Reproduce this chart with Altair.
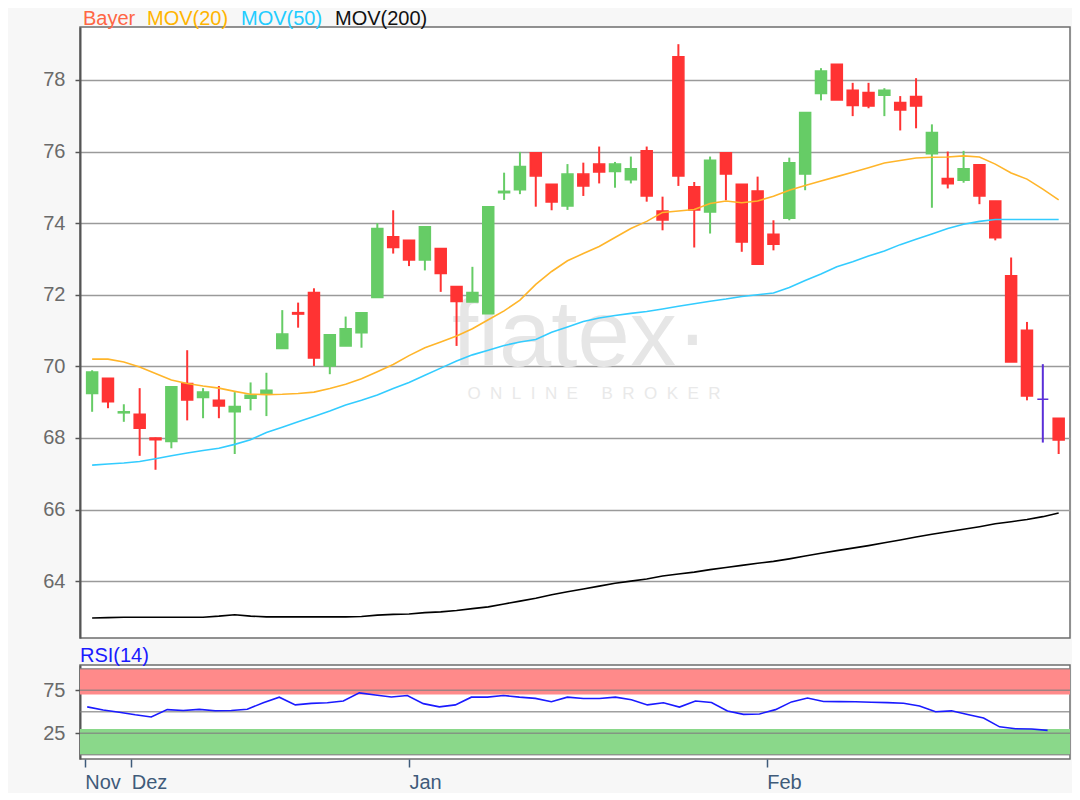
import altair as alt
import pandas as pd

# ---------------- data ----------------
opens = [69.24, 69.67, 68.70, 68.66, 68.00, 67.90, 69.52, 69.13, 69.05, 68.73,
         69.11, 69.22, 70.50, 71.50, 72.06, 70.01, 70.57, 70.94, 71.92, 73.62,
         73.52, 72.97, 73.29, 72.23, 71.80, 71.47, 74.85, 74.93, 75.97, 75.09,
         74.48, 75.37, 75.65, 75.44, 75.21, 76.02, 74.34, 78.65, 75.02, 74.31,
         75.97, 75.09, 74.90, 73.69, 74.14, 75.37, 77.62, 78.44, 77.71, 77.65,
         77.57, 77.37, 77.54, 75.94, 75.25, 75.20, 75.63, 74.62, 72.53, 71.01,
         69.08, 68.55]
closes = [69.84, 69.01, 68.73, 68.27, 67.95, 69.43, 69.06, 69.28, 68.89, 68.88,
          69.19, 69.33, 70.90, 71.46, 70.23, 70.88, 71.05, 71.50, 73.85, 73.32,
          72.97, 73.90, 72.59, 71.81, 72.06, 74.46, 74.89, 75.58, 75.32, 74.59,
          75.37, 75.04, 75.43, 75.65, 75.52, 74.76, 74.09, 75.32, 74.37, 75.76,
          75.37, 73.47, 72.85, 73.41, 75.69, 77.09, 78.25, 77.44, 77.29, 77.27,
          77.71, 77.16, 77.27, 76.53, 75.10, 75.52, 74.76, 73.59, 70.12, 69.17,
          69.08, 67.94]
highs = [69.89, 69.67, 68.94, 69.39, 68.01, 69.43, 70.45, 69.39, 69.45, 69.28,
         69.55, 69.82, 71.57, 71.78, 72.18, 70.88, 71.39, 71.50, 74.00, 74.36,
         73.52, 73.90, 73.29, 72.23, 72.78, 74.46, 75.41, 75.99, 75.97, 75.09,
         75.65, 75.69, 76.14, 75.71, 75.86, 76.14, 74.74, 79.00, 75.15, 75.86,
         75.97, 75.09, 75.30, 74.08, 75.83, 77.09, 78.33, 78.44, 77.92, 77.92,
         77.77, 77.55, 78.05, 76.76, 76.00, 76.02, 75.63, 74.62, 73.04, 71.24,
         70.06, 68.55]
lows = [68.73, 68.83, 68.45, 67.50, 67.11, 67.71, 68.49, 68.55, 68.55, 67.55,
        68.77, 68.61, 70.50, 71.08, 70.01, 69.78, 70.57, 70.52, 71.92, 73.15,
        72.80, 72.68, 72.08, 70.57, 71.80, 71.47, 74.65, 74.81, 74.46, 74.36,
        74.37, 74.76, 75.11, 74.99, 75.11, 74.60, 73.80, 75.04, 73.32, 73.71,
        74.64, 73.20, 72.85, 73.24, 74.08, 74.92, 77.43, 77.44, 76.99, 77.21,
        76.99, 76.59, 76.65, 74.43, 74.97, 75.13, 74.53, 73.52, 70.12, 69.05,
        67.87, 67.55]

mov20 = [70.20, 70.20, 70.12, 69.98, 69.80, 69.62, 69.52, 69.45, 69.39, 69.30,
         69.22, 69.21, 69.22, 69.24, 69.28, 69.38, 69.50, 69.65, 69.85, 70.05,
         70.30, 70.52, 70.68, 70.85, 71.05, 71.30, 71.55, 71.85, 72.29, 72.65,
         72.95, 73.15, 73.35, 73.60, 73.85, 74.05, 74.30, 74.34, 74.38, 74.55,
         74.62, 74.57, 74.62, 74.75, 74.92, 75.05, 75.18, 75.30, 75.42, 75.55,
         75.68, 75.75, 75.82, 75.84, 75.85, 75.88, 75.85, 75.65, 75.40, 75.23,
         74.95, 74.65]
mov50 = [67.24, 67.27, 67.30, 67.34, 67.42, 67.50, 67.58, 67.65, 67.71, 67.82,
         67.95, 68.15, 68.30, 68.45, 68.60, 68.75, 68.92, 69.05, 69.20, 69.38,
         69.55, 69.75, 69.95, 70.15, 70.32, 70.45, 70.58, 70.68, 70.75, 70.95,
         71.10, 71.25, 71.35, 71.42, 71.48, 71.53, 71.60, 71.68, 71.75, 71.82,
         71.88, 71.95, 72.00, 72.05, 72.20, 72.40, 72.58, 72.78, 72.92, 73.08,
         73.22, 73.40, 73.55, 73.70, 73.85, 73.97, 74.05, 74.10, 74.10, 74.10,
         74.10, 74.10]
mov200 = [62.97, 62.98, 62.99, 62.99, 62.99, 62.99, 62.99, 62.99, 63.02, 63.06,
          63.02, 63.00, 63.00, 63.00, 63.00, 63.00, 63.00, 63.01, 63.05, 63.07,
          63.08, 63.12, 63.14, 63.18, 63.23, 63.28, 63.36, 63.44, 63.52, 63.62,
          63.70, 63.78, 63.86, 63.94, 64.00, 64.06, 64.14, 64.20, 64.25, 64.32,
          64.38, 64.44, 64.50, 64.55, 64.62, 64.70, 64.78, 64.85, 64.92, 64.99,
          65.07, 65.15, 65.23, 65.31, 65.38, 65.45, 65.52, 65.60, 65.66, 65.72,
          65.80, 65.90]
rsi = [55.7, 52.0, 49.5, 46.5, 44.0, 52.5, 51.5, 52.8, 51.2, 51.5,
       53.0, 60.5, 67.0, 58.0, 59.8, 60.5, 62.5, 72.0, 69.5, 67.2,
       69.0, 59.5, 55.7, 58.0, 67.0, 67.0, 69.0, 67.0, 65.6, 61.7,
       67.0, 65.5, 65.5, 67.0, 64.0, 58.0, 60.5, 55.5, 62.5, 60.8,
       51.0, 47.0, 47.5, 52.5, 61.5, 66.0, 62.0, 61.8, 61.7, 61.0,
       60.6, 59.9, 56.8, 50.0, 51.1, 46.8, 42.8, 32.5, 30.3, 30.0,
       28.4]

month_ticks = [-0.15, 2.75, 20.1, 42.45]
month_labels = ["Nov", "Dez", "Jan", "Feb"]
price_ticks = [64, 66, 68, 70, 72, 74, 76, 78]
rsi_ticks = [25, 75]
rsi_levels = [0, 25, 50, 75, 100]
overbought = [70, 100]
oversold = [0, 30]

series_names = ["MOV(200)", "MOV(50)", "MOV(20)"]
series_values = [mov200, mov50, mov20]
series_colors = ["#000000", "#33ccff", "#ffb52a"]

title_words = ["Bayer", "MOV(20)", "MOV(50)", "MOV(200)"]
title_colors = ["#ff6644", "#ffb400", "#22ccff", "#111111"]
title_x = [3, 67, 161, 255]

# ---------------- tables ----------------
n = len(opens)
idx = list(range(n))


def direction(o, c):
    if c > o:
        return "up"
    if c < o:
        return "down"
    return "flat"


candles = pd.DataFrame({"i": idx, "open": opens, "close": closes,
                        "high": highs, "low": lows})
candles["dir"] = [direction(o, c) for o, c in zip(opens, closes)]
rsi_df = pd.DataFrame({"i": list(range(len(rsi))), "rsi": rsi})
levels_df = pd.DataFrame({"lvl": rsi_levels})

# ---------------- geometry / style ----------------
W = 990
H1 = 611
H2 = 94
FONT = "Arial"
NB = "\u00a0"

xscale = alt.Scale(domain=[-0.45, 61.40], nice=False, zero=False)
yscale = alt.Scale(domain=[62.41, 79.48], nice=False, zero=False)
rscale = alt.Scale(domain=[-4.9, 104.4], nice=False, zero=False)

price_axis = alt.Axis(values=price_ticks, title=None, grid=True, gridColor="#9a9a9a",
                      gridWidth=1.5, labelFontSize=20, labelFont=FONT, labelColor="#6a6a6a",
                      tickSize=5, tickColor="#555555", tickWidth=1.5, labelPadding=10,
                      domainColor="#555555", domainWidth=2)
rsi_axis = alt.Axis(values=rsi_ticks, title=None, grid=False, labelFontSize=20,
                    labelFont=FONT, labelColor="#6a6a6a", tickSize=5, tickColor="#555555",
                    tickWidth=1.5, labelPadding=10, domainColor="#555555", domainWidth=2)

label_expr = " : ".join(
    [f"datum.value < {month_ticks[k] + 0.5} ? '{month_labels[k]}'" for k in range(len(month_ticks) - 1)]
    + [f"'{month_labels[-1]}'"])
month_axis = alt.Axis(values=month_ticks, labelExpr=label_expr, title=None, grid=False,
                      domain=False, labelAlign="left", labelFontSize=20, labelFont=FONT,
                      labelColor="#3f5b7a", tickColor="#3f5b7a", tickSize=8, tickWidth=1.5,
                      labelPadding=5, labelFlush=False, labelOverlap=False, labelBound=False)

candle_color = alt.Scale(domain=["up", "down", "flat"], range=["#66cc66", "#ff3333", "#5a2fd8"])

# ---------------- main panel ----------------
wm_word = "flatex·"
wm_sub = (NB * 2).join("ONLINE") + NB * 5 + (NB * 2).join("BROKER")
wm1 = alt.Chart(pd.DataFrame({"t": [wm_word]})).mark_text(
    fontSize=94, font=FONT, color="#e6e6e6", align="center"
).encode(text="t:N", x=alt.value(500), y=alt.value(311))
wm2 = alt.Chart(pd.DataFrame({"t": [wm_sub]})).mark_text(
    fontSize=17, font=FONT, color="#e9e9e9", align="center"
).encode(text="t:N", x=alt.value(514), y=alt.value(367))

wicks = alt.Chart(candles).mark_rule(strokeWidth=2).encode(
    x=alt.X("i:Q", scale=xscale, axis=None),
    y=alt.Y("low:Q", scale=yscale, axis=price_axis),
    y2="high:Q",
    color=alt.Color("dir:N", scale=candle_color, legend=None),
)
bodies = alt.Chart(candles).mark_bar(size=11, strokeWidth=1.5).encode(
    x=alt.X("i:Q", scale=xscale, axis=None),
    y=alt.Y("open:Q", scale=yscale, axis=price_axis),
    y2="close:Q",
    color=alt.Color("dir:N", scale=candle_color, legend=None),
    stroke=alt.Stroke("dir:N", scale=candle_color, legend=None),
)

line_layers = []
for name, vals, col in zip(series_names, series_values, series_colors):
    df = pd.DataFrame({"i": idx, "v": vals})
    line_layers.append(
        alt.Chart(df).mark_line(strokeWidth=1.6, color=col).encode(
            x=alt.X("i:Q", scale=xscale, axis=None),
            y=alt.Y("v:Q", scale=yscale, axis=price_axis),
        )
    )

title_layers = []
for word, col, px in zip(title_words, title_colors, title_x):
    title_layers.append(
        alt.Chart(pd.DataFrame({"t": [word]})).mark_text(
            fontSize=20, font=FONT, color=col, align="left", baseline="alphabetic"
        ).encode(text="t:N", x=alt.value(px), y=alt.value(-2))
    )

main = alt.layer(wm1, wm2, wicks, bodies, *line_layers, *title_layers).properties(
    width=W, height=H1)

# ---------------- RSI panel ----------------
band_ob = alt.Chart(pd.DataFrame({"lo": [overbought[0]], "hi": [overbought[1]]})).mark_rect(
    color="#ff8a8a").encode(
    y=alt.Y("lo:Q", scale=rscale, axis=rsi_axis), y2="hi:Q",
    x=alt.value(0), x2=alt.value(W))
band_os = alt.Chart(pd.DataFrame({"lo": [oversold[0]], "hi": [oversold[1]]})).mark_rect(
    color="#8ad88a").encode(
    y=alt.Y("lo:Q", scale=rscale, axis=rsi_axis), y2="hi:Q",
    x=alt.value(0), x2=alt.value(W))
levels = alt.Chart(levels_df).mark_rule(color="#808080", strokeWidth=1.5, opacity=0.75).encode(
    y=alt.Y("lvl:Q", scale=rscale, axis=rsi_axis),
)
rsi_line = alt.Chart(rsi_df).mark_line(color="#1a1aff", strokeWidth=1.6).encode(
    x=alt.X("i:Q", scale=xscale, axis=month_axis),
    y=alt.Y("rsi:Q", scale=rscale, axis=rsi_axis),
)
rsi_title = alt.Chart(pd.DataFrame({"t": ["RSI(14)"]})).mark_text(
    fontSize=20, font=FONT, color="#1a1aff", align="left", baseline="alphabetic"
).encode(text="t:N", x=alt.value(0), y=alt.value(-3))

rsi_panel = alt.layer(band_ob, band_os, levels, rsi_line, rsi_title).properties(
    width=W, height=H2)

chart = alt.vconcat(main, rsi_panel, spacing=27, bounds="flush").properties(
    padding={"left": 34, "top": 0, "right": 0, "bottom": 0},
    background="#f7f7f7",
).configure_view(fill="white", stroke="#6e6e6e", strokeWidth=1.5)

chart.save("out.html", embed_options={"renderer": "svg", "actions": False})
